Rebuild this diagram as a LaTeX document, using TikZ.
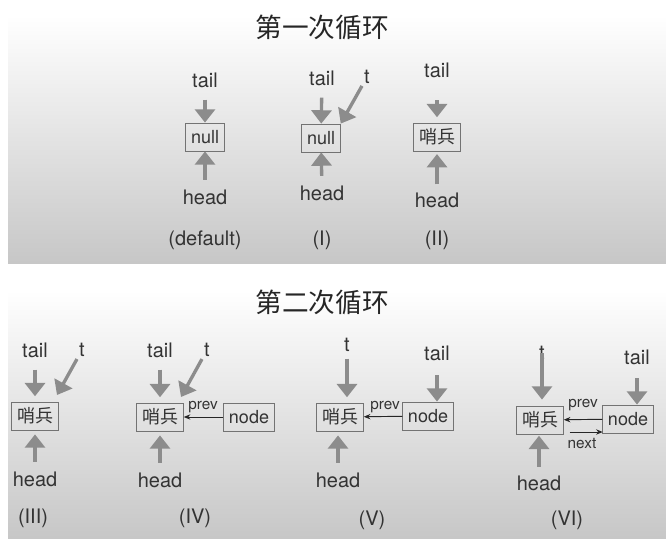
\documentclass[tikz,border=0pt]{standalone}
\usepackage{fontspec}
\setmainfont{TeX Gyre Heros}
\newfontfamily\cjk{Noto Sans CJK SC}
\usetikzlibrary{arrows.meta}

\tikzset{
  gar/.style={draw=black!45, line width=2.5pt, -{Triangle[length=10pt,width=15pt]}},
  lbl/.style={text=black!80, font=\fontsize{15}{18}\selectfont, inner sep=1pt},
  small/.style={text=black!80, font=\fontsize{11.5}{13}\selectfont, inner sep=1pt},
  cell/.style={draw=black!55, line width=0.6pt, text=black!80, inner xsep=4pt, inner ysep=2pt,
    minimum height=21pt, font=\fontsize{13.5}{16}\selectfont},
  ptr/.style={draw=black!85, line width=0.7pt, -{Stealth[length=5pt,width=4pt]}},
  title/.style={text=black!85, font=\cjk\fontsize{20}{24}\selectfont}
}

\begin{document}
\begin{tikzpicture}[x=0.75pt,y=0.75pt,yscale=-1,xscale=1]
\useasboundingbox (0,0) rectangle (666,538);

%Shape: Rectangle [first loop panel]
\shade[top color=white,bottom color=black!22] (8,15) rectangle (666,263);
%Shape: Rectangle [second loop panel]
\shade[top color=white,bottom color=black!22] (8,290) rectangle (666,538);

% Text Node
\node[title] (title1) at (322,27) {第一次循环};
% Text Node
\node[title] (title2) at (322,302) {第二次循环};

%(default)
\node[lbl] (tail0) at (205,80) {tail};
\node[cell] (box0) at (205,137) {null};
\node[lbl] (head0) at (205,197) {head};
\node[lbl] (lab0) at (205,240) {(default)};
\draw[gar,shorten <=8pt] (tail0) -- (box0);
\draw[gar,shorten <=6pt] (head0) -- (box0);

%(I)
\node[lbl] (tail1) at (322,78) {tail};
\node[lbl] (t1) at (367,77) {t};
\node[cell] (box1) at (321,138) {null};
\node[lbl] (head1) at (322,193) {head};
\node[lbl] (lab1) at (322,240) {(I)};
\draw[gar,shorten <=8pt] (tail1) -- (box1);
\draw[gar,shorten <=6pt] (head1) -- (box1);
\draw[gar,shorten <=1pt] (t1) -- (box1.north east);

%(II)
\node[lbl] (tail2) at (437,70) {tail};
\node[cell] (box2) at (437,137) {\cjk 哨兵};
\node[lbl] (head2) at (437,200) {head};
\node[lbl] (lab2) at (437,240) {(II)};
\draw[gar,shorten <=16pt,shorten >=4pt] (tail2) -- (box2);
\draw[gar,shorten <=5pt,shorten >=2pt] (head2) -- (box2);

%(III)
\node[lbl] (tail3) at (35,350) {tail};
\node[lbl] (t3) at (82,350) {t};
\node[cell] (box3) at (35,416) {\cjk 哨兵};
\node[lbl] (head3) at (35,479) {head};
\node[lbl] (lab3) at (33,518) {(III)};
\coordinate (t3tip) at (57,395);
\draw[gar,shorten <=8pt,shorten >=4pt] (tail3) -- (box3);
\draw[gar,shorten <=6pt,shorten >=3pt] (head3) -- (box3);
\draw[gar,shorten <=1pt] (t3) -- (t3tip);

%(IV)
\node[lbl] (tail4) at (160,350) {tail};
\node[lbl] (t4) at (207,350) {t};
\node[cell] (box4) at (160,417) {\cjk 哨兵};
\node[cell] (node4) at (249,417) {node};
\node[lbl] (head4) at (160,480) {head};
\node[lbl] (lab4) at (195,518) {(IV)};
\node[small] (prev4) at (203,407) {prev};
\coordinate (t4tip) at (181,397);
\draw[gar,shorten <=8pt,shorten >=4pt] (tail4) -- (box4);
\draw[gar,shorten <=6pt,shorten >=3pt] (head4) -- (box4);
\draw[gar,shorten <=1pt] (t4) -- (t4tip);
\draw[ptr] (node4) -- (box4);

%(V)
\node[lbl] (t5) at (347,345) {t};
\node[lbl] (tail5) at (437,353) {tail};
\node[cell] (box5) at (340,417) {\cjk 哨兵};
\node[cell] (node5) at (428,416) {node};
\node[lbl] (head5) at (338,480) {head};
\node[lbl] (lab5) at (372,520) {(V)};
\node[small] (prev5) at (385,407) {prev};
\draw[gar,shorten <=4pt,shorten >=4pt] (t5) -- (t5 |- box5.north);
\draw[gar,shorten <=10pt] (tail5) -- (tail5 |- node5.north);
\draw[gar,shorten <=6pt,shorten >=3pt] (head5) -- (head5 |- box5.south);
\draw[ptr] (node5) -- (box5);

%(VI)
\node[lbl] (t6) at (542,353) {t};
\node[lbl] (tail6) at (637,357) {tail};
\node[cell] (box6) at (540,420) {\cjk 哨兵};
\node[cell] (node6) at (628,419) {node};
\node[lbl] (head6) at (539,483) {head};
\node[lbl] (lab6) at (567,520) {(VI)};
\node[small] (prev6) at (583,405) {prev};
\node[small] (next6) at (582,443) {next};
\draw[gar,shorten >=4.5pt] (t6.center) -- (t6 |- box6.north);
\draw[gar,shorten <=9pt] (tail6) -- (tail6 |- node6.north);
\draw[gar,shorten <=5.5pt,shorten >=1pt] (head6) -- (head6 |- box6.south);
\draw[ptr] (node6) -- (box6);
\draw[ptr] (box6.east) ++(6,12) -- ++(33,0);

\end{tikzpicture}
\end{document}
